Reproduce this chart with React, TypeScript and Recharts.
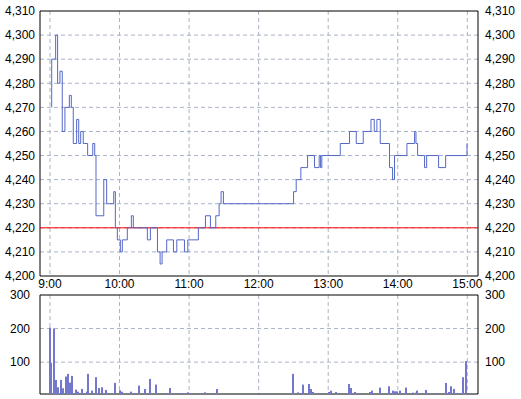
import React from 'react';
import { LineChart, Line, BarChart, Bar, XAxis, YAxis, CartesianGrid, ReferenceLine, ReferenceArea } from 'recharts';

// minutes after 9:00
const TIME_TICKS = [0, 60, 120, 180, 240, 300, 360];
const TIME_DOMAIN = [-8.6, 369.2];
const PRICE_TICKS = [4200, 4210, 4220, 4230, 4240, 4250, 4260, 4270, 4280, 4290, 4300, 4310];
const VOLUME_TICKS = [100, 200, 300];
const PREV_CLOSE = 4220;

// price change points (stepAfter)
const priceMinutes = [
  1.5, 1.5, 4.9, 6.6, 8.6, 10.6, 12.9, 16.7, 18.4, 20.1, 23.0, 24.8, 26.5, 28.7, 32.5, 36.9, 38.6, 39.7,
  46.4, 48.9, 55.0, 56.4, 58.1, 60.7, 62.4, 66.7, 70.2, 71.9, 84.0, 86.6, 92.7, 95.0, 96.7, 100.7, 106.5,
  109.4, 116.0, 118.9, 128.0, 134.1, 138.4, 143.0, 145.9, 147.6, 149.6, 210.1, 212.4, 216.4, 222.2, 228.2,
  232.2, 233.4, 234.5, 250.4, 258.4, 264.2, 270.2, 276.9, 279.7, 282.0, 284.9, 292.9, 295.5, 297.2, 307.9,
  314.5, 315.7, 317.1, 323.1, 324.9, 335.2, 341.3, 359.7, 360.0,
];
const prices = [
  4270, 4290, 4300, 4280, 4285, 4260, 4270, 4275, 4270, 4255, 4265, 4255, 4260, 4255, 4250, 4255, 4250, 4225,
  4240, 4230, 4235, 4220, 4215, 4210, 4215, 4220, 4225, 4220, 4215, 4220, 4210, 4205, 4210, 4215, 4210,
  4215, 4210, 4215, 4220, 4225, 4220, 4225, 4230, 4235, 4230, 4235, 4240, 4245, 4250, 4245,
  4250, 4245, 4250, 4255, 4260, 4255, 4260, 4265, 4260, 4265, 4255, 4245, 4240, 4250, 4255,
  4260, 4255, 4250, 4245, 4250, 4245, 4250, 4255, 4255,
];

const volumeMinutes = [
  0, 1.4, 3.5, 5.2, 6.9, 9.9, 11.4, 13.7, 16, 17.3, 19.3, 22.5, 24.6, 27.5, 31.8, 33.2, 36.7, 39.6, 42.2,
  44.9, 48.2, 50.5, 56, 57.8, 60.9, 62.6, 64.5, 70.1, 73.4, 77, 79.7, 81.8, 86.2, 91.9, 94, 99.3, 104,
  112.4, 114.8, 119, 121, 133.6, 144.3, 148.9,
  209.6, 214.3, 215.8, 218.2, 223.4, 225, 226.8, 231.4, 235.4, 240.6, 242.9, 246.9, 255.5, 257.7, 259.7,
  263, 265.9, 276.3, 278, 284.6, 292.5, 296.4, 298.1, 299.8, 302.2, 306.9, 313.6, 315.4, 317.1, 319.4,
  324.3, 326.3, 333.2, 342.1, 344.7, 346.4, 348.2, 349.9, 353.4, 355, 356.3, 358.9,
];
const volumes = [
  203, 98, 200, 47, 25, 47, 22, 57, 65, 39, 59, 18, 12, 20, 12, 65, 15, 55, 23,
  25, 17, 7, 38, 5, 16, 12, 5, 12, 8, 30, 5, 20, 50, 33, 5, 7, 23,
  8, 7, 10, 8, 10, 20, 5,
  65, 10, 8, 33, 35, 20, 11, 7, 7, 11, 15, 11, 7, 35, 23,
  11, 7, 11, 15, 24, 28, 15, 13, 13, 15, 24, 9, 9, 15, 7,
  17, 7, 8, 38, 11, 28, 20, 7, 7, 7, 55, 103,
];

const priceData = priceMinutes.map((t, i) => ({ t, p: prices[i] }));
const volumeData = volumeMinutes.map((t, i) => ({ t, v: volumes[i] }));

const FONT = '"Liberation Sans", Arial, sans-serif';
const tickStyle = { fill: '#000', fontSize: 12, fontFamily: FONT };
const GRID = '#aab4c6';
const BAR_COLOR = '#7478cc';
const fmtPrice = (v: number) => v.toLocaleString('en-US');
const fmtTime = (m: number) => `${9 + Math.round(m / 60)}:00`;

// the band computed for a number axis is too narrow, so keep the bar centred but 2px wide
const VolumeBar = (props: any) => {
  const { x, y, width, height } = props;
  if (!height || height <= 0) return null;
  const cx = x + width / 2;
  return <rect x={Math.round(cx - 1)} y={y} width={2} height={height} fill={BAR_COLOR} />;
};

export default function App() {
  return (
    <div style={{ position: 'absolute', left: 0, top: 0, width: 521, height: 399, background: '#fff' }}>
      <div style={{ position: 'absolute', left: 0, top: 0 }}>
        <LineChart width={521} height={296} data={priceData} margin={{ top: 11, right: 0, bottom: 0, left: 0 }}>
          <CartesianGrid yAxisId="l" stroke={GRID} strokeDasharray="4 3" horizontalValues={PRICE_TICKS.slice(1, -1)} verticalValues={TIME_TICKS} />
          <XAxis type="number" dataKey="t" domain={TIME_DOMAIN} ticks={TIME_TICKS} tickFormatter={fmtTime}
            allowDataOverflow interval={0} tickLine={false} axisLine={false} tickSize={0} tickMargin={3} height={20} tick={tickStyle} />
          <YAxis yAxisId="l" orientation="left" width={40} domain={[4200, 4310]} ticks={PRICE_TICKS} tickFormatter={fmtPrice}
            allowDataOverflow interval={0} tickLine={false} axisLine={false} tickSize={0} tickMargin={5} tick={tickStyle} />
          <YAxis yAxisId="r" orientation="right" width={43} domain={[4200, 4310]} ticks={PRICE_TICKS} tickFormatter={fmtPrice}
            allowDataOverflow interval={0} tickLine={false} axisLine={false} tickSize={0} tickMargin={7} tick={tickStyle} />
          <ReferenceLine yAxisId="l" y={PREV_CLOSE} stroke="#ff0000" strokeWidth={1} />
          <Line yAxisId="l" type="stepAfter" dataKey="p" stroke="#5468c8" strokeWidth={1} dot={false} isAnimationActive={false} />
          <ReferenceArea yAxisId="l" x1={TIME_DOMAIN[0]} x2={TIME_DOMAIN[1]} y1={4200} y2={4310} fill="none" stroke="#000" strokeWidth={1} />
        </LineChart>
      </div>
      <div style={{ position: 'absolute', left: 0, top: 280 }}>
        <BarChart width={521} height={119} data={volumeData} margin={{ top: 15, right: 0, bottom: 5, left: 0 }}>
          <CartesianGrid yAxisId="l" stroke={GRID} strokeDasharray="4 3" horizontalValues={[100, 200]} verticalValues={TIME_TICKS} />
          <XAxis type="number" dataKey="t" domain={TIME_DOMAIN} ticks={TIME_TICKS} allowDataOverflow hide />
          <YAxis yAxisId="l" orientation="left" width={40} domain={[5, 300]} ticks={VOLUME_TICKS}
            allowDataOverflow interval={0} tickLine={false} axisLine={false} tickSize={0} tickMargin={10} tick={tickStyle} />
          <YAxis yAxisId="r" orientation="right" width={43} domain={[5, 300]} ticks={VOLUME_TICKS}
            allowDataOverflow interval={0} tickLine={false} axisLine={false} tickSize={0} tickMargin={7} tick={tickStyle} />
          <Bar yAxisId="l" dataKey="v" fill={BAR_COLOR} shape={VolumeBar} isAnimationActive={false} />
          <ReferenceArea yAxisId="l" x1={TIME_DOMAIN[0]} x2={TIME_DOMAIN[1]} y1={5} y2={300} fill="none" stroke="#000" strokeWidth={1} />
        </BarChart>
      </div>
    </div>
  );
}
